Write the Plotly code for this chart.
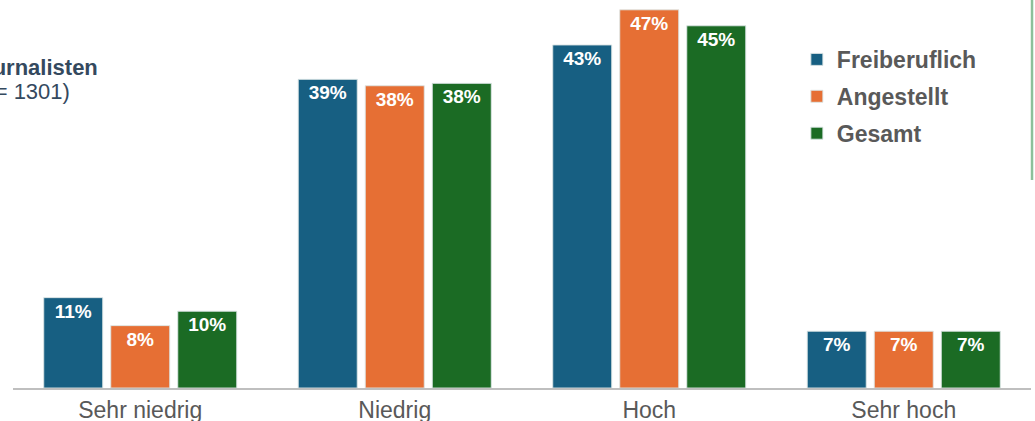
import plotly.graph_objects as go

categories = ["Sehr niedrig", "Niedrig", "Hoch", "Sehr hoch"]
series_names = ["Freiberuflich", "Angestellt", "Gesamt"]
freiberuflich = [11.3, 38.6, 42.9, 7.1]
angestellt = [7.8, 37.8, 47.3, 7.1]
gesamt = [9.6, 38.1, 45.3, 7.1]
colors = ["#175f82", "#e66f34", "#1b6b24"]

fig = go.Figure()
for i, (name, vals) in enumerate(zip(series_names, [freiberuflich, angestellt, gesamt])):
    fig.add_trace(go.Bar(
        x=categories, y=vals, name=name,
        marker=dict(color=colors[i], line=dict(color="rgba(220,230,230,0.9)", width=1)),
        texttemplate="%{y:.0f}%", textposition="inside", insidetextanchor="end",
        textfont=dict(family="Liberation Sans, Arial", size=19, color="white", weight="bold"),
        constraintext="none", legendgroup=name, cliponaxis=False,
    ))

fig.update_layout(
    width=1035, height=421,
    margin=dict(l=13, r=4, t=5, b=33),
    paper_bgcolor="white", plot_bgcolor="white",
    barmode="group", bargap=0.21, bargroupgap=0.12,
    font=dict(family="Liberation Sans, Arial", color="#595959"),
    legend=dict(x=0.770, y=0.914, xanchor="left", yanchor="top",
                font=dict(size=23, color="#595959", weight="bold"),
                tracegroupgap=4, bgcolor="rgba(0,0,0,0)"),
    xaxis=dict(showline=True, linecolor="#bfbfbf", linewidth=1.5, ticks="",
               tickfont=dict(size=23, color="#595959"), showgrid=False,
               ticklabelstandoff=1, automargin=False),
    yaxis=dict(range=[0, 47.9], visible=False, showgrid=False, zeroline=False,
               automargin=False),
    showlegend=True,
)

fig.add_annotation(xref="paper", yref="paper", x=0.0855, y=0.838, xanchor="right", yanchor="middle",
                   text="<b>Journalisten</b>", showarrow=False,
                   font=dict(size=22, color="#34495e"))
fig.add_annotation(xref="paper", yref="paper", x=0.058, y=0.773, xanchor="right", yanchor="middle",
                   text="(n = 1301)", showarrow=False,
                   font=dict(size=22, color="#34495e"))

fig.add_shape(type="line", xref="paper", yref="paper", x0=1.001, x1=1.001, y0=0.543, y1=1.02,
              line=dict(color="#8cc09a", width=2.5))

fig.write_html("out.html", config={"displayModeBar": False},
               post_script="document.body.style.margin='0';")
